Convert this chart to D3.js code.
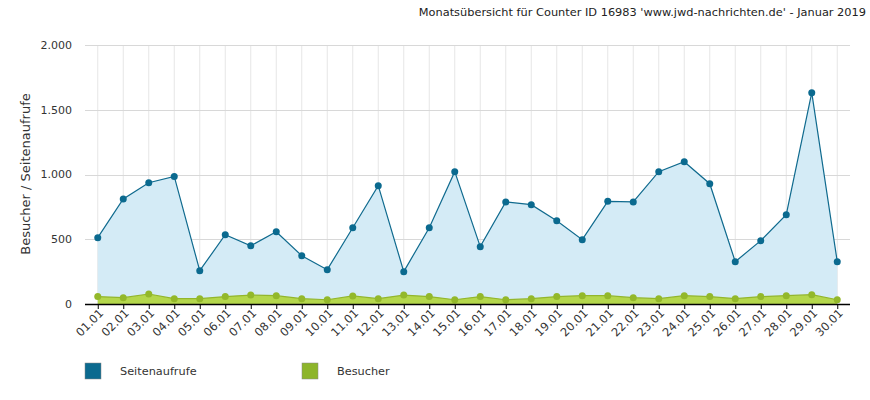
<!DOCTYPE html>
<html><head><meta charset="utf-8">
<script src="https://cdn.jsdelivr.net/npm/d3@7/dist/d3.min.js"></script>
<style>body{margin:0;background:#fff;} text{font-family:"DejaVu Sans",Verdana,sans-serif;}</style>
</head><body><svg id="c" width="870" height="400"></svg>
<script>
const title = "Monatsübersicht für Counter ID 16983 'www.jwd-nachrichten.de' - Januar 2019";
const yTitle = "Besucher / Seitenaufrufe";
const days = ["01.01","02.01","03.01","04.01","05.01","06.01","07.01","08.01","09.01","10.01","11.01","12.01","13.01","14.01","15.01","16.01","17.01","18.01","19.01","20.01","21.01","22.01","23.01","24.01","25.01","26.01","27.01","28.01","29.01","30.01"];
const seitenaufrufe = [512,811,936,985,257,535,450,558,373,265,589,914,250,589,1022,443,788,767,643,497,793,788,1022,1099,929,327,489,690,1632,327];
const besucher = [57,49,77,41,41,57,69,64,41,33,62,41,69,57,33,57,33,41,57,64,64,49,41,64,57,41,57,64,72,33];
const yTicks = [0,500,1000,1500,2000];
const seriesNames = ["Seitenaufrufe","Besucher"];

const svg = d3.select("#c");
const L=85, R=850, T=45, B=304;
const x = d3.scalePoint().domain(days).range([L,R]).padding(0.5);
const y = d3.scaleLinear().domain([0,2000]).range([B,T]);
const fmt = v => d3.format(",")(v).replace(/,/g,".");

// grid
svg.append("g").selectAll("line.v").data(days).join("line")
  .attr("x1",d=>x(d)).attr("x2",d=>x(d)).attr("y1",T).attr("y2",B)
  .attr("stroke","#e6e6e6").attr("stroke-width",1);
svg.append("g").selectAll("line.h").data(yTicks.slice(1)).join("line")
  .attr("x1",L).attr("x2",R).attr("y1",d=>Math.round(y(d))+0.5).attr("y2",d=>Math.round(y(d))+0.5)
  .attr("stroke","#d8d8d8").attr("stroke-width",1);

// y labels
svg.append("g").selectAll("text").data(yTicks).join("text")
  .attr("x",72).attr("y",d=>y(d)).attr("dy","0.35em").attr("text-anchor","end")
  .attr("font-size",11).attr("fill","#333").text(fmt);

// areas
const area = (arr)=> d3.area().x((d,i)=>x(days[i])).y0(y(0)).y1(d=>y(d))(arr);
const line = (arr)=> d3.line().x((d,i)=>x(days[i])).y(d=>y(d))(arr);
svg.append("path").attr("d",area(seitenaufrufe)).attr("fill","#d4ebf6");
svg.append("path").attr("d",line(seitenaufrufe)).attr("fill","none").attr("stroke","#0f6a8e").attr("stroke-width",1.2);
svg.append("path").attr("d",area(besucher)).attr("fill","#b4d74c");
svg.append("path").attr("d",line(besucher)).attr("fill","none").attr("stroke","#93b62c").attr("stroke-width",1.2);
svg.append("g").selectAll("circle").data(seitenaufrufe).join("circle")
  .attr("cx",(d,i)=>x(days[i])).attr("cy",d=>y(d)).attr("r",3.5).attr("fill","#0b6a8f");
svg.append("g").selectAll("circle").data(besucher).join("circle")
  .attr("cx",(d,i)=>x(days[i])).attr("cy",d=>y(d)).attr("r",3.5).attr("fill","#93b82a");

// x axis
const xa = svg.append("g").attr("transform",`translate(0,${B})`)
  .call(d3.axisBottom(x).tickSize(5).tickSizeOuter(0));
xa.select(".domain").attr("d",`M${L},0.5H${R}`).attr("stroke","#000").attr("stroke-width",1.5);
xa.selectAll(".tick line").attr("stroke","#000");
xa.selectAll(".tick text").attr("font-size",11.5).attr("fill","#333")
  .attr("font-family","DejaVu Sans, Verdana, sans-serif")
  .attr("text-anchor","end").attr("transform","translate(3,7) rotate(-45)").attr("dy","0.35em").attr("y",0).attr("x",0);

// title
svg.append("text").attr("x",866).attr("y",16).attr("text-anchor","end")
  .attr("font-size",11.35).attr("fill","#222").text(title);
svg.append("text").attr("transform","translate(30,174) rotate(-90)").attr("text-anchor","middle")
  .attr("font-size",13).attr("fill","#333").text(yTitle);

// legend
const legColors=["#0b6a8f","#8db52b"];
const lg = svg.append("g").selectAll("g").data(seriesNames).join("g")
  .attr("transform",(d,i)=>`translate(${85+i*217},363)`);
lg.append("rect").attr("width",16).attr("height",16).attr("fill",(d,i)=>legColors[i]).attr("stroke","#888").attr("stroke-width",0.5);
lg.append("text").attr("x",35).attr("y",8).attr("dy","0.35em").attr("font-size",11.3).attr("fill","#333").text(d=>d);
</script></body></html>
